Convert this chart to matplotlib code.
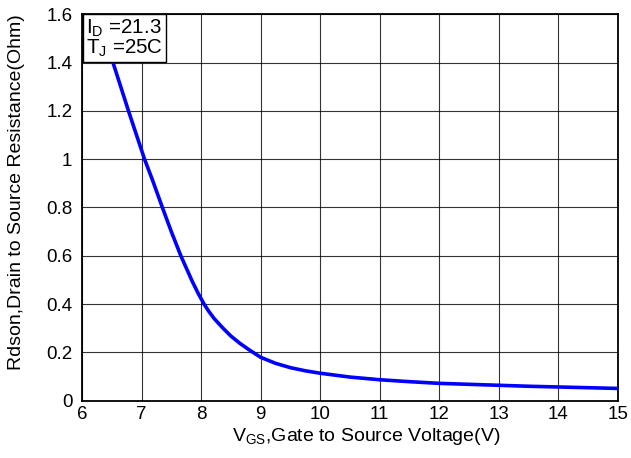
import matplotlib
matplotlib.use("Agg")
import matplotlib.pyplot as plt

# Dane
vgs = [6.3, 6.52, 6.78, 7.05, 7.18, 7.35, 7.5, 7.66, 7.85, 7.95, 8.05, 8.13, 8.22, 8.37,
       8.5, 8.65, 8.8, 9.0, 9.25, 9.5, 9.75, 10.0, 10.5, 11.0, 11.5, 12.0, 12.5, 13.0,
       13.5, 14.0, 14.5, 15.0]
rdson = [1.58, 1.40, 1.20, 1.00, 0.916, 0.80, 0.70, 0.60, 0.495, 0.445, 0.40, 0.37, 0.34, 0.30,
         0.268, 0.238, 0.212, 0.180, 0.155, 0.137, 0.124, 0.114, 0.098, 0.087, 0.079, 0.072,
         0.068, 0.064, 0.060, 0.057, 0.054, 0.051]
x_ticks = [6, 7, 8, 9, 10, 11, 12, 13, 14, 15]
y_ticks = [0, 0.2, 0.4, 0.6, 0.8, 1.0, 1.2, 1.4, 1.6]
y_tick_labels = ["0", "0.2", "0.4", "0.6", "0.8", "1", "1.2", "1.4", "1.6"]

plt.rcParams["font.family"] = ["Liberation Sans", "DejaVu Sans"]
plt.rcParams["mathtext.fontset"] = "custom"
plt.rcParams["mathtext.rm"] = "Liberation Sans"

fig = plt.figure(figsize=(6.31, 4.58), dpi=100)
ax = fig.add_axes([0.130, 0.125, 0.849, 0.844])

ax.plot(vgs, rdson, color="#0000ff", linewidth=2.6, zorder=3,
        solid_joinstyle="round", solid_capstyle="round")

ax.set_xlim(6, 15)
ax.set_ylim(0, 1.6)
ax.set_xticks(x_ticks)
ax.set_yticks(y_ticks)
ax.set_yticklabels(y_tick_labels)
ax.tick_params(axis="x", labelsize=13.5, length=0, pad=4)
ax.tick_params(axis="y", labelsize=13.5, length=0, pad=7)
ax.grid(True, color="black", linewidth=0.8, alpha=0.8)
for s in ax.spines.values():
    s.set_linewidth(1.3)

ax.set_xlabel(r"V$_\mathregular{GS}$,Gate to Source Voltage(V)", fontsize=14)
ax.set_ylabel("Rdson,Drain to Source Resistance(Ohm)", fontsize=14)
ax.xaxis.set_label_coords(0.531, -0.066)
ax.yaxis.set_label_coords(-0.106, 0.541)

# Ramka z warunkami pomiaru
ax.text(0.008, 0.992, "I$_\\mathregular{D}$ =21.3\nT$_\\mathregular{J}$ =25C",
        transform=ax.transAxes, fontsize=14.8, va="top", ha="left", linespacing=0.88,
        bbox=dict(boxstyle="square,pad=0.15", facecolor="white", edgecolor="black", linewidth=1),
        zorder=5)

fig.savefig("out.png", dpi=100)
